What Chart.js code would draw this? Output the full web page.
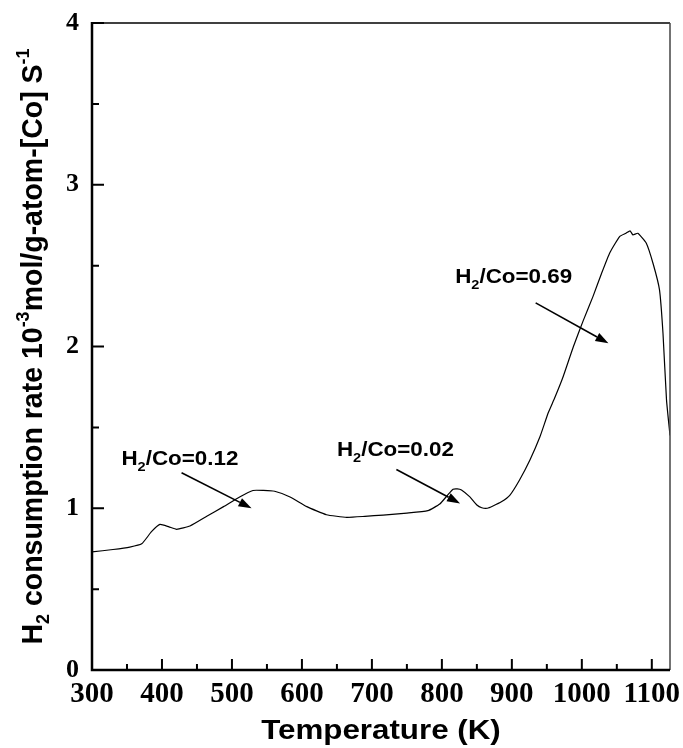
<!DOCTYPE html>
<html>
<head>
<meta charset="utf-8">
<script src="https://cdn.jsdelivr.net/npm/chart.js@4.4.1/dist/chart.umd.min.js"></script>
<style>
  body { margin: 0; background: #fff; }
  canvas { display: block; }
</style>
</head>
<body>
<canvas id="tpr_chart" width="683" height="748"></canvas>
<script>
// TPR profile, values
var temps = [300, 330, 354, 371, 385, 397, 410, 421, 440, 464, 488, 511, 530, 545, 561, 583, 607, 635, 664, 690,
             716, 750, 780, 797, 808, 816, 822, 828, 840, 850, 857, 865, 873, 885, 897, 911, 926, 940, 952, 961,
             973, 988, 1002, 1016, 1028, 1040, 1054, 1063, 1069, 1073, 1080, 1092, 1102, 1111, 1116, 1121, 1126];
var rates = [0.73, 0.745, 0.76, 0.78, 0.855, 0.90, 0.885, 0.87, 0.89, 0.95, 1.01, 1.07, 1.11, 1.11, 1.105, 1.07, 1.01, 0.96, 0.944, 0.95,
             0.958, 0.97, 0.985, 1.026, 1.08, 1.117, 1.12, 1.113, 1.07, 1.02, 1.003, 1.0, 1.014, 1.04, 1.08, 1.175, 1.30, 1.44, 1.59, 1.68,
             1.81, 2.0, 2.16, 2.31, 2.45, 2.58, 2.68, 2.70, 2.715, 2.69, 2.70, 2.64, 2.51, 2.35, 2.08, 1.67, 1.45];

var xTicks = [300, 400, 500, 600, 700, 800, 900, 1000, 1100];
var xMinorTicks = [350, 450, 550, 650, 750, 850, 950, 1050];
var yTicks = [0, 1, 2, 3, 4];
var yMinorTicks = [0.5, 1.5, 2.5, 3.5];

// peak notes: H2/Co ratio, text anchor and arrow (data units)
var noteRatios = ['0.12', '0.02', '0.69'];
var noteTextAt = [[342, 1.27], [650, 1.32], [819, 2.39]];
var noteArrowFrom = [[428, 1.22], [735, 1.24], [934, 2.27]];
var noteArrowTo = [[528, 1.0], [826, 1.03], [1038, 2.02]];

var SANS = '"Liberation Sans", Arial, sans-serif';
var SERIF = '"Liberation Serif", "Times New Roman", serif';

// pieces = [text, size, dy]
function richWidth(ctx, pieces) {
    var w = 0;
    pieces.forEach(function(p) {
        ctx.font = 'bold ' + p[1] + 'px ' + SANS;
        w += ctx.measureText(p[0]).width;
    });
    return w;
}
function drawRich(ctx, pieces, x, y) {
    var cx = x;
    pieces.forEach(function(p) {
        ctx.font = 'bold ' + p[1] + 'px ' + SANS;
        ctx.fillText(p[0], cx, y + (p[2] || 0));
        cx += ctx.measureText(p[0]).width;
    });
}

function arrow(ctx, x1, y1, x2, y2) {
    var ang = Math.atan2(y2 - y1, x2 - x1);
    var hl = 13, hw = 4.5;
    var bx = x2 - hl * Math.cos(ang), by = y2 - hl * Math.sin(ang);
    ctx.beginPath();
    ctx.moveTo(x1, y1);
    ctx.lineTo(bx, by);
    ctx.stroke();
    ctx.beginPath();
    ctx.moveTo(x2, y2);
    ctx.lineTo(bx + hw * Math.sin(ang), by - hw * Math.cos(ang));
    ctx.lineTo(bx - hw * Math.sin(ang), by + hw * Math.cos(ang));
    ctx.closePath();
    ctx.fill();
}

var frameAndNotes = {
    id: 'frameAndNotes',
    afterDraw: function(chart) {
        var ctx = chart.ctx, a = chart.chartArea;
        var xs = chart.scales.x, ys = chart.scales.y;
        ctx.save();
        ctx.fillStyle = '#000';
        ctx.strokeStyle = '#000';

        // box
        ctx.lineWidth = 1.5;
        ctx.beginPath();
        ctx.moveTo(a.left, a.top);
        ctx.lineTo(a.right, a.top);
        ctx.stroke();
        ctx.strokeStyle = '#444';
        ctx.beginPath();
        ctx.moveTo(a.right, a.top);
        ctx.lineTo(a.right, a.bottom);
        ctx.stroke();
        ctx.strokeStyle = '#000';
        ctx.lineWidth = 2.5;
        ctx.beginPath();
        ctx.moveTo(a.left, a.top - 1);
        ctx.lineTo(a.left, a.bottom);
        ctx.lineTo(a.right, a.bottom);
        ctx.stroke();

        // inward ticks
        ctx.lineWidth = 2;
        ctx.beginPath();
        xTicks.forEach(function(v) {
            var px = xs.getPixelForValue(v);
            ctx.moveTo(px, a.bottom); ctx.lineTo(px, a.bottom - 11);
        });
        xMinorTicks.forEach(function(v) {
            var px = xs.getPixelForValue(v);
            ctx.moveTo(px, a.bottom); ctx.lineTo(px, a.bottom - 6);
        });
        yTicks.forEach(function(v) {
            var py = ys.getPixelForValue(v);
            ctx.moveTo(a.left, py); ctx.lineTo(a.left + 12, py);
        });
        yMinorTicks.forEach(function(v) {
            var py = ys.getPixelForValue(v);
            ctx.moveTo(a.left, py); ctx.lineTo(a.left + 7, py);
        });
        ctx.stroke();

        // peak notes
        ctx.lineWidth = 1.6;
        ctx.textBaseline = 'alphabetic';
        ctx.textAlign = 'left';
        noteRatios.forEach(function(r, i) {
            var tx = xs.getPixelForValue(noteTextAt[i][0]);
            var ty = ys.getPixelForValue(noteTextAt[i][1]);
            ctx.save();
            ctx.translate(tx, ty);
            ctx.scale(1.12, 1);
            drawRich(ctx, [['H', 20], ['2', 13, 6], ['/Co=' + r, 20]], 0, 0);
            ctx.restore();
            arrow(ctx,
                xs.getPixelForValue(noteArrowFrom[i][0]), ys.getPixelForValue(noteArrowFrom[i][1]),
                xs.getPixelForValue(noteArrowTo[i][0]), ys.getPixelForValue(noteArrowTo[i][1]));
        });

        // x title
        var xt = [['Temperature (K)', 27]];
        ctx.save();
        ctx.translate((a.left + a.right) / 2, 739);
        ctx.scale(1.16, 1);
        drawRich(ctx, xt, -richWidth(ctx, xt) / 2, 0);
        ctx.restore();

        // y title
        var yt = [['H', 28.5], ['2', 18, 7], [' consumption rate 10', 28.5], ['-3', 18, -12],
                  ['mol/g-atom-[Co] S', 28.5], ['-1', 18, -12]];
        ctx.save();
        ctx.translate(42, (a.top + a.bottom) / 2);
        ctx.rotate(-Math.PI / 2);
        ctx.scale(1, 1.06);
        drawRich(ctx, yt, -richWidth(ctx, yt) / 2, 0);
        ctx.restore();

        ctx.restore();
    }
};

var ctx = document.getElementById('tpr_chart').getContext('2d');
new Chart(ctx, {
    type: 'line',
    data: {
        datasets: [{
            data: temps.map(function(t, i) { return { x: t, y: rates[i] }; }),
            borderColor: '#000',
            borderWidth: 1.2,
            pointRadius: 0,
            fill: false,
            tension: 0.15
        }]
    },
    options: {
        responsive: false,
        animation: false,
        devicePixelRatio: 1,
        layout: { padding: { top: 23, right: 13, left: 0, bottom: 0 } },
        plugins: { legend: { display: false }, tooltip: { enabled: false } },
        scales: {
            x: {
                type: 'linear',
                min: 300,
                max: 1126,
                afterBuildTicks: function(s) { s.ticks = xTicks.map(function(v) { return { value: v }; }); },
                afterFit: function(s) {
                    s.height = 78;
                    s.paddingLeft = 0; s.paddingRight = 0;
                },
                grid: { display: false, drawTicks: false },
                border: { display: false },
                ticks: {
                    color: '#000',
                    padding: 7,
                    maxRotation: 0,
                    autoSkip: false,
                    callback: function(v) { return String(v); },
                    font: { family: SERIF, size: 29, weight: 'bold' }
                }
            },
            y: {
                type: 'linear',
                min: 0,
                max: 4,
                afterBuildTicks: function(s) { s.ticks = yTicks.map(function(v) { return { value: v }; }); },
                afterFit: function(s) {
                    s.width = 92;
                    s.paddingTop = 0; s.paddingBottom = 0;
                },
                grid: { display: false, drawTicks: false },
                border: { display: false },
                ticks: {
                    color: '#000',
                    padding: 13,
                    font: { family: SERIF, size: 26, weight: 'bold' }
                }
            }
        }
    },
    plugins: [frameAndNotes]
});
</script>
</body>
</html>
